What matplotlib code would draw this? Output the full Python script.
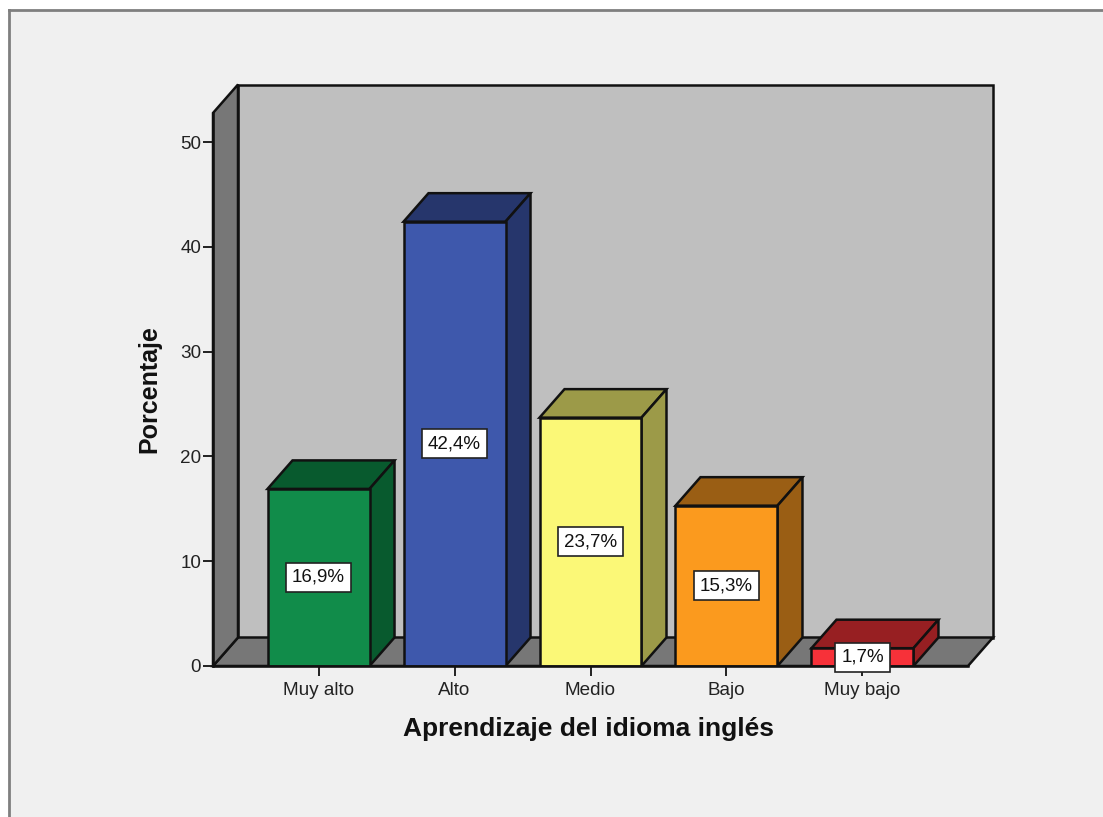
import matplotlib
matplotlib.use("Agg")
import matplotlib.pyplot as plt
from matplotlib.lines import Line2D
from matplotlib.patches import Rectangle

plt.rcParams['font.family'] = ['Liberation Sans', 'DejaVu Sans']

categorias = ['Muy alto', 'Alto', 'Medio', 'Bajo', 'Muy bajo']
porcentajes = [16.9, 42.4, 23.7, 15.3, 1.7]
etiquetas = ['16,9%', '42,4%', '23,7%', '15,3%', '1,7%']
colores = ['#118C4A', '#3E58AC', '#FBF877', '#FB9A1E', '#F73139']
colores_osc = ['#085A2E', '#26366C', '#9C9A48', '#9A5E14', '#971F22']
ticks_y = [0, 10, 20, 30, 40, 50]

W, H = 1103, 817
fig = plt.figure(figsize=(W / 100, H / 100), dpi=100, facecolor='white')

# panel gris de fondo, con borde solo arriba y a la izquierda
fig.add_artist(Rectangle((9 / W, 0), 1, 1 - 10 / H, transform=fig.transFigure, fc='#F0F0F0', ec='none', zorder=-3))
fig.add_artist(Line2D([9 / W, 1], [1 - 10 / H, 1 - 10 / H], color='#7F7F7F', lw=2, zorder=-2))
fig.add_artist(Line2D([9 / W, 9 / W], [0, 1 - 10 / H], color='#7F7F7F', lw=2, zorder=-2))

# ejes: el frente del "cubo" va de x=213 a 968 y de y=666 a 113 (pixeles)
ax = fig.add_axes([213 / W, 1 - 666 / H, 755 / W, 553 / H])
ax.patch.set_visible(False)
ax.set_xlim(-0.776, 4.776)
ax.set_ylim(0, 52.77)

# profundidad 3D en unidades de datos
dx = 25 / 136
dy = 28.5 / 10.48
x0, x1 = ax.get_xlim()
y0, y1 = ax.get_ylim()
borde = dict(edgecolor='#111111', linewidth=1.8, joinstyle='miter', clip_on=False)

# pared del fondo, suelo y pared izquierda
ax.fill([x0 + dx, x1 + dx, x1 + dx, x0 + dx], [y0 + dy, y0 + dy, y1 + dy, y1 + dy], facecolor='#BFBFBF', zorder=1, **borde)
ax.fill([x0, x1, x1 + dx, x0 + dx], [y0, y0, y0 + dy, y0 + dy], facecolor='#777777', zorder=1, **borde)
ax.fill([x0, x0 + dx, x0 + dx, x0], [y0, y0 + dy, y1 + dy, y1], facecolor='#777777', zorder=1, **borde)

# barras
ancho = 0.75
for i, v in enumerate(porcentajes):
    a = i - ancho / 2
    b = i + ancho / 2
    ax.fill([a, b, b + dx, a + dx], [v, v, v + dy, v + dy], facecolor=colores_osc[i], zorder=2, **borde)
    ax.fill([b, b + dx, b + dx, b], [0, dy, v + dy, v], facecolor=colores_osc[i], zorder=2, **borde)
    ax.bar(i, v, width=ancho, color=colores[i], edgecolor='#111111', linewidth=1.8, zorder=3)
    ax.text(i, v / 2, etiquetas[i], ha='center', va='center', fontsize=13.5, color='#111111', zorder=5, clip_on=False,
            bbox=dict(boxstyle='square,pad=0.32', fc='white', ec='#222222', lw=1.2))

for lado in ['top', 'right']:
    ax.spines[lado].set_visible(False)
for lado in ['left', 'bottom']:
    ax.spines[lado].set_color('#111111')
    ax.spines[lado].set_linewidth(1.8)
    ax.spines[lado].set_zorder(4)

ax.set_xticks(range(len(categorias)))
ax.set_xticklabels(categorias)
ax.set_yticks(ticks_y)
ax.tick_params(axis='x', length=7.5, width=1.3, color='#111111', labelsize=13.6, labelcolor='#222222', pad=4)
ax.tick_params(axis='y', length=7.5, width=1.3, color='#111111', labelsize=13.6, labelcolor='#222222', pad=1)

ax.set_xlabel('Aprendizaje del idioma inglés', fontsize=19, fontweight='bold', color='#111111', labelpad=13)
ax.xaxis.label.set_x(0.497)
ax.set_ylabel('Porcentaje', fontsize=18, fontweight='bold', color='#111111')
ax.yaxis.set_label_coords((161 - 213) / 755, 0.5)

plt.savefig('out.png', dpi=100)
